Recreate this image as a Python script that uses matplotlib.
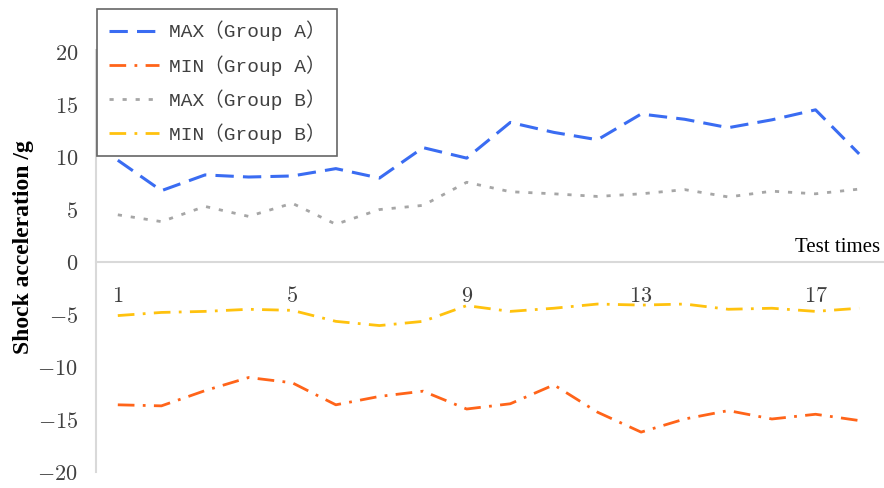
import matplotlib
matplotlib.use("Agg")
import matplotlib.pyplot as plt
from matplotlib.ticker import FuncFormatter, FixedLocator

plt.rcParams["mathtext.fontset"] = "cm"

# Test index and measured shock accelerations (g)
test_times = list(range(1, 19))
max_group_a = [9.7, 6.8, 8.3, 8.1, 8.2, 8.9, 8.0, 10.9, 9.9, 13.3, 12.35, 11.65,
               14.1, 13.6, 12.8, 13.55, 14.5, 10.3]
min_group_a = [-13.6, -13.7, -12.25, -11.0, -11.5, -13.6, -12.8, -12.3, -14.0,
               -13.5, -11.7, -14.3, -16.2, -14.95, -14.15, -14.95, -14.5, -15.1]
max_group_b = [4.5, 3.85, 5.3, 4.35, 5.6, 3.6, 5.0, 5.4, 7.6, 6.7, 6.5, 6.25,
               6.5, 6.9, 6.2, 6.75, 6.5, 6.95]
min_group_b = [-5.1, -4.8, -4.7, -4.5, -4.6, -5.65, -6.05, -5.65, -4.15, -4.7,
               -4.4, -4.0, -4.1, -4.0, -4.5, -4.4, -4.7, -4.4]

series_labels = ["MAX（Group A）", "MIN（Group A）", "MAX（Group B）", "MIN（Group B）"]
x_tick_values = [1, 5, 9, 13, 17]
y_tick_values = [-20, -15, -10, -5, 0, 5, 10, 15, 20]

fig = plt.figure(figsize=(8.84, 4.88), dpi=100)
ax_left, ax_width = 96 / 884, 1 - 96 / 884
ax = fig.add_axes([ax_left, 16 / 488, ax_width, 422 / 488])

ax.plot(test_times, max_group_a, color="#3a6cf2", lw=2.2, dashes=(6, 3),
        label=series_labels[0])
ax.plot(test_times, min_group_a, color="#ff6419", lw=2.0, dashes=(6, 3, 1, 3),
        label=series_labels[1])
ax.plot(test_times, max_group_b, color="#a6a6a6", lw=2.0, dashes=(1.5, 3.2),
        label=series_labels[2])
ax.plot(test_times, min_group_b, color="#ffc20e", lw=2.0, dashes=(6, 3, 1, 3),
        label=series_labels[3])

ax.set_xlim(0.5, 18.57)
ax.set_ylim(-20, 20.2)

for side in ("top", "right"):
    ax.spines[side].set_visible(False)
ax.spines["bottom"].set_position(("data", 0))
ax.spines["bottom"].set_color("#d9d9d9")
ax.spines["bottom"].set_linewidth(1.5)
ax.spines["left"].set_color("#d9d9d9")
ax.spines["left"].set_linewidth(1.5)

ax.xaxis.set_major_locator(FixedLocator(x_tick_values))
ax.yaxis.set_major_locator(FixedLocator(y_tick_values))
fmt = FuncFormatter(lambda v, pos: f"${v:g}$")
ax.xaxis.set_major_formatter(fmt)
ax.yaxis.set_major_formatter(fmt)
ax.tick_params(axis="x", length=0, pad=17, labelsize=16, labelcolor="#404040")
ax.tick_params(axis="y", length=0, pad=13, labelsize=16, labelcolor="#404040")

ax.set_ylabel("Shock acceleration /g", family="Liberation Serif",
              fontweight="bold", fontsize=17)
ax.yaxis.set_label_coords((34 - 96) / 788, 0.533)
ax.text(18.47, 0.5, "Test times", family="Liberation Serif", fontsize=15,
        ha="right", va="bottom")

leg = ax.legend(loc="upper left", bbox_to_anchor=(97 / 884, 1 - 9 / 488),
                bbox_transform=fig.transFigure, fancybox=False, frameon=True,
                prop={"family": ["Liberation Mono", "Noto Sans CJK SC"], "size": 14},
                handlelength=2.6, handletextpad=0.5, labelspacing=0.7,
                borderpad=0.6, borderaxespad=0)
leg.get_frame().set_edgecolor("#404040")
leg.get_frame().set_linewidth(1.2)
for t in leg.get_texts():
    t.set_color("#404040")

fig.savefig("out.png", dpi=100)
